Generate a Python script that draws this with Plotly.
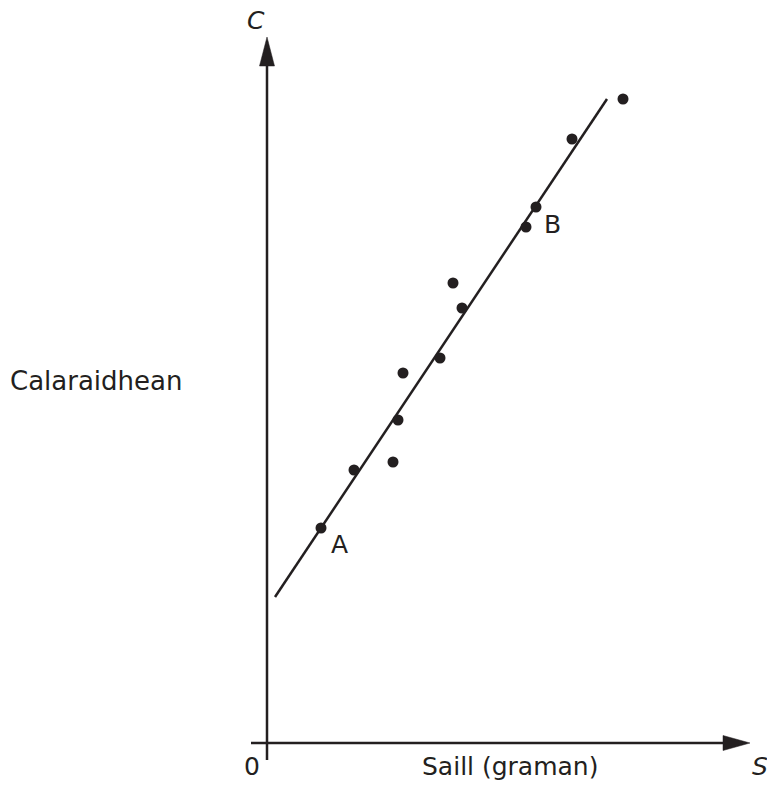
import plotly.graph_objects as go

# Data (arbitrary units)
saill = [5.4, 8.7, 12.6, 13.1, 13.6, 17.3, 19.5, 18.6, 25.9, 26.9, 30.5, 35.6]
calaraidhean = [21.5, 27.3, 28.1, 32.3, 37.0, 38.5, 43.5, 46.0, 51.6, 53.6, 60.4, 64.4]
point_labels = ["A", "B"]
label_s = [7.2, 28.55]
label_c = [19.9, 51.85]
fit_intercept = 13.4
fit_slope = 1.5
fit_s_range = [0.8, 34.0]

INK = "#231f20"
FONT = "DejaVu Sans, sans-serif"

fig = go.Figure()

# best fit line
fit_c = [fit_intercept + fit_slope * s for s in fit_s_range]
fig.add_trace(go.Scatter(x=fit_s_range, y=fit_c, mode="lines",
                         line=dict(color=INK, width=2.5), hoverinfo="skip"))
# points
fig.add_trace(go.Scatter(x=saill, y=calaraidhean, mode="markers",
                         marker=dict(color=INK, size=11), hoverinfo="skip"))

# axes drawn as shapes
fig.add_shape(type="line", x0=0, x1=0, y0=-1.7, y1=67.8, line=dict(color=INK, width=2.5))
fig.add_shape(type="line", x0=-1.6, x1=45.8, y0=0, y1=0, line=dict(color=INK, width=2.5))
fig.add_shape(type="path", path="M -0.75 67.7 L 0.75 67.7 L 0 70.6 Z",
              fillcolor=INK, line=dict(color=INK, width=0.5))
fig.add_shape(type="path", path="M 45.6 -0.75 L 45.6 0.75 L 48.3 0 Z",
              fillcolor=INK, line=dict(color=INK, width=0.5))

ann = []
def txt(t, x, y, size=25, italic=False, xanchor="center"):
    ann.append(dict(text=f"<i>{t}</i>" if italic else t, x=x, y=y, xref="x", yref="y",
                    showarrow=False, xanchor=xanchor, yanchor="middle",
                    font=dict(family=FONT, size=size, color=INK)))

txt("C", -1.1, 72.3, italic=True)
txt("S", 49.3, -2.3, italic=True)
txt("0", -1.55, -2.3)
txt("Saill (graman)", 15.3, -2.3, xanchor="left")
txt("Calaraidhean", -17.1, 36.2, size=26)
for t, x, y in zip(point_labels, label_s, label_c):
    txt(t, x, y)

fig.update_layout(
    width=767, height=788, margin=dict(l=0, r=0, t=0, b=0),
    paper_bgcolor="white", plot_bgcolor="white", showlegend=False,
    xaxis=dict(range=[-26.7, 50.0], visible=False, fixedrange=True),
    yaxis=dict(range=[-4.5, 74.3], visible=False, fixedrange=True),
    annotations=ann,
)
fig.write_html("out.html", config={"displayModeBar": False},
               post_script="document.body.style.margin='0';")
